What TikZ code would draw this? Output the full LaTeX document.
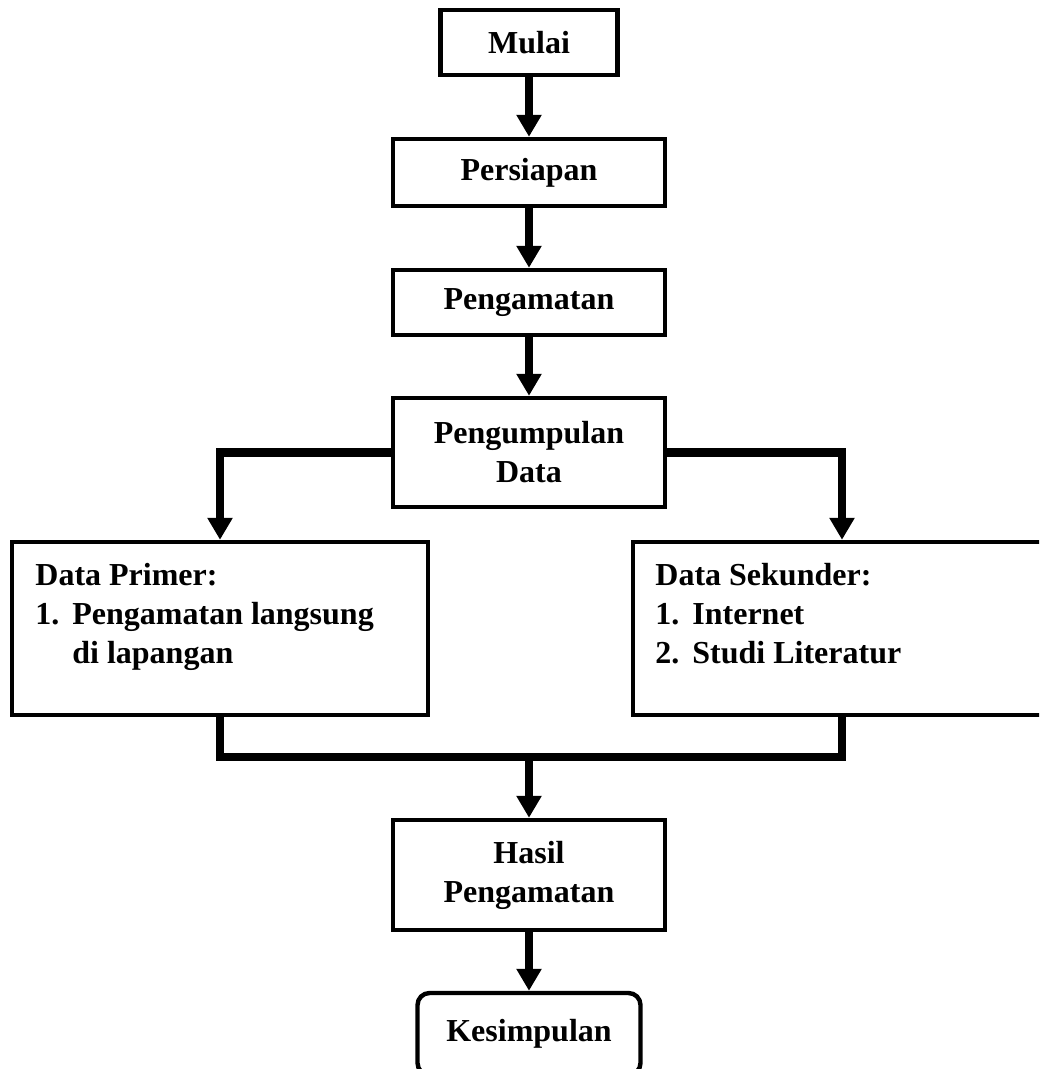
\documentclass[tikz,border=0pt]{standalone}
\usepackage{fontspec}
\setmainfont{Liberation Serif}
\usetikzlibrary{arrows.meta}
\newcommand\listnum[1]{\makebox[18.5pt][l]{#1}}
\begin{document}
\begin{tikzpicture}[x=0.5pt,y=-0.5pt,
  font=\fontsize{16}{19.5}\selectfont\bfseries,
  stepbox/.style={draw,line width=2.2pt,align=center,inner sep=2pt},
  link/.style={line width=4.4pt},
  flow/.style={link,-{Triangle[width=12pt,length=11pt]}}]
 \useasboundingbox (0,0) rectangle (1039,1069);
 \clip (0,0) rectangle (1039,1069);
 \node[stepbox,minimum width=88.5pt,minimum height=32.5pt] (mulai) at (529,42.5) {Mulai};
 \node[stepbox,minimum width=136pt,minimum height=33.5pt] (persiapan) at (529,172.5) {Persiapan};
 \node[stepbox,minimum width=136pt,minimum height=32.5pt] (pengamatan) at (529,302.5) {Pengamatan};
 \node[stepbox,minimum width=136pt,minimum height=54.5pt] (kumpul) at (529,452.5) {Pengumpulan\\Data};
 \node[stepbox,minimum width=208pt,minimum height=86.5pt] (primer) at (220,628.5) {};
 \node[anchor=north west,align=left,inner sep=0pt] (primertext) at (35,563) {Data Primer:\\\listnum{1.}Pengamatan langsung\\\listnum{}di lapangan};
 \node[stepbox,minimum width=209pt,minimum height=86.5pt] (sekunder) at (842,628.5) {};
 \node[anchor=north west,align=left,inner sep=0pt] (sekundertext) at (655,563) {Data Sekunder:\\\listnum{1.}Internet\\\listnum{2.}Studi Literatur};
 \node[stepbox,minimum width=136pt,minimum height=55pt] (hasil) at (529,875) {Hasil\\Pengamatan};
 \node[stepbox,rounded corners=6pt,minimum width=111.5pt,minimum height=41pt] (kesimpulan) at (529,1034) {Kesimpulan};
 \coordinate (join) at (529,757);
 \draw[flow] (mulai) -- (persiapan);
 \draw[flow] (persiapan) -- (pengamatan);
 \draw[flow] (pengamatan) -- (kumpul);
 \draw[flow] (kumpul.west) -| (primer.north);
 \draw[flow] (kumpul.east) -| (sekunder.north);
 \draw[link] (primer.south) |- (join) -| (sekunder.south);
 \draw[flow] (join) -- (hasil);
 \draw[flow] (hasil) -- (kesimpulan);
\end{tikzpicture}
\end{document}
